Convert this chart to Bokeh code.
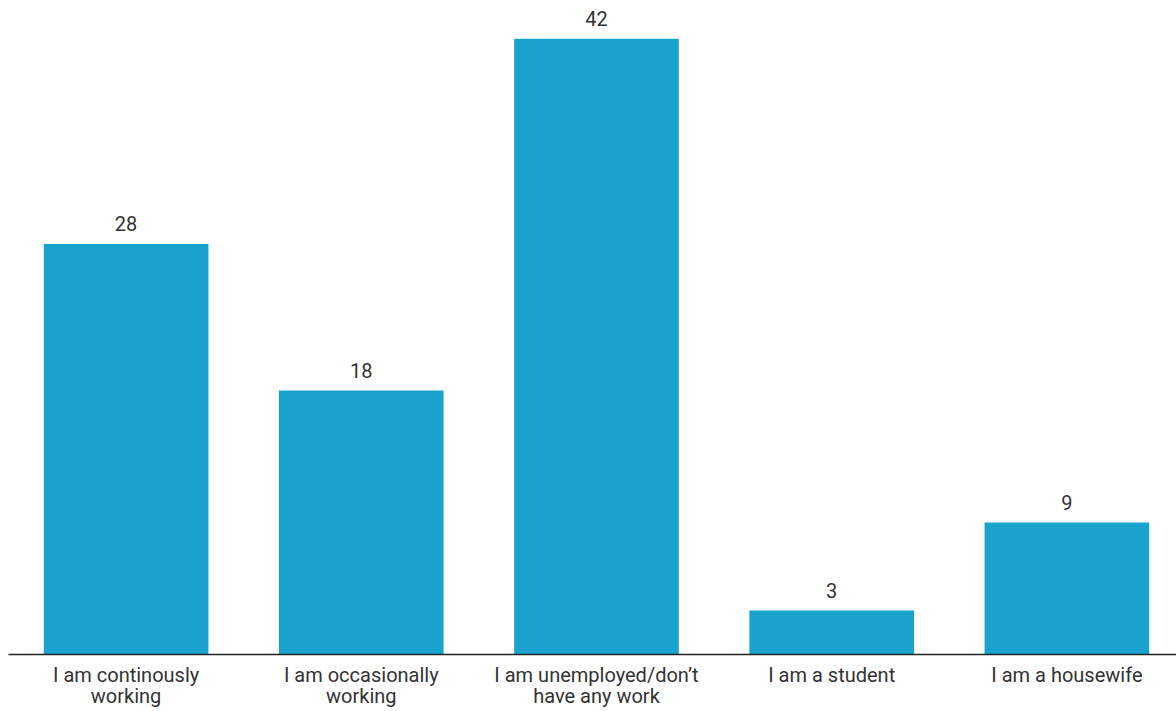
from bokeh.plotting import figure
from bokeh.models import Range1d, FixedTicker, ColumnDataSource, LabelSet
from bokeh.core.properties import value
from bokeh.embed import file_html
from bokeh.resources import INLINE

categories = ["I am continously working", "I am occasionally working",
              "I am unemployed/don\u2019t have any work", "I am a student", "I am a housewife"]
tick_labels = ["I am continously\nworking", "I am occasionally\nworking",
               "I am unemployed/don\u2019t\nhave any work", "I am a student", "I am a housewife"]
values = [28, 18, 42, 3, 9]

FONT = "Roboto"
TEXT_COLOR = "#333333"
BAR_COLOR = "#1aa2ce"

xs = [i + 0.5 for i in range(len(categories))]
src = ColumnDataSource(dict(x=xs, top=values, label=[str(v) for v in values]))

p = figure(width=1176, height=711, output_backend="svg", toolbar_location=None,
           x_range=Range1d(0, 4.966), y_range=Range1d(0, 44.6),
           min_border_left=8, min_border_right=0, min_border_top=0, min_border_bottom=0)

p.vbar(x="x", top="top", width=0.7, source=src, color=BAR_COLOR, line_color=None)

labels = LabelSet(x="x", y="top", text="label", source=src, text_align="center",
                  text_baseline="alphabetic", y_offset=13, text_font=value(FONT),
                  text_font_size="20px", text_color=TEXT_COLOR)
p.add_layout(labels)

p.xaxis.ticker = FixedTicker(ticks=xs)
p.xaxis.major_label_overrides = {x: t for x, t in zip(xs, tick_labels)}
p.xaxis.major_tick_line_color = None
p.xaxis.minor_tick_line_color = None
p.xaxis.axis_line_color = "#222222"
p.xaxis.axis_line_width = 1.5
p.xaxis.major_label_text_font = FONT
p.xaxis.major_label_text_font_size = "20px"
p.xaxis.major_label_text_line_height = 0.9
p.xaxis.major_label_text_color = TEXT_COLOR
p.xaxis.major_label_standoff = 8
p.xaxis.major_tick_out = 0
p.xaxis.major_tick_in = 0

p.yaxis.visible = False
p.xgrid.visible = False
p.ygrid.visible = False
p.outline_line_color = None

open("out.html", "w").write(file_html(p, INLINE))
